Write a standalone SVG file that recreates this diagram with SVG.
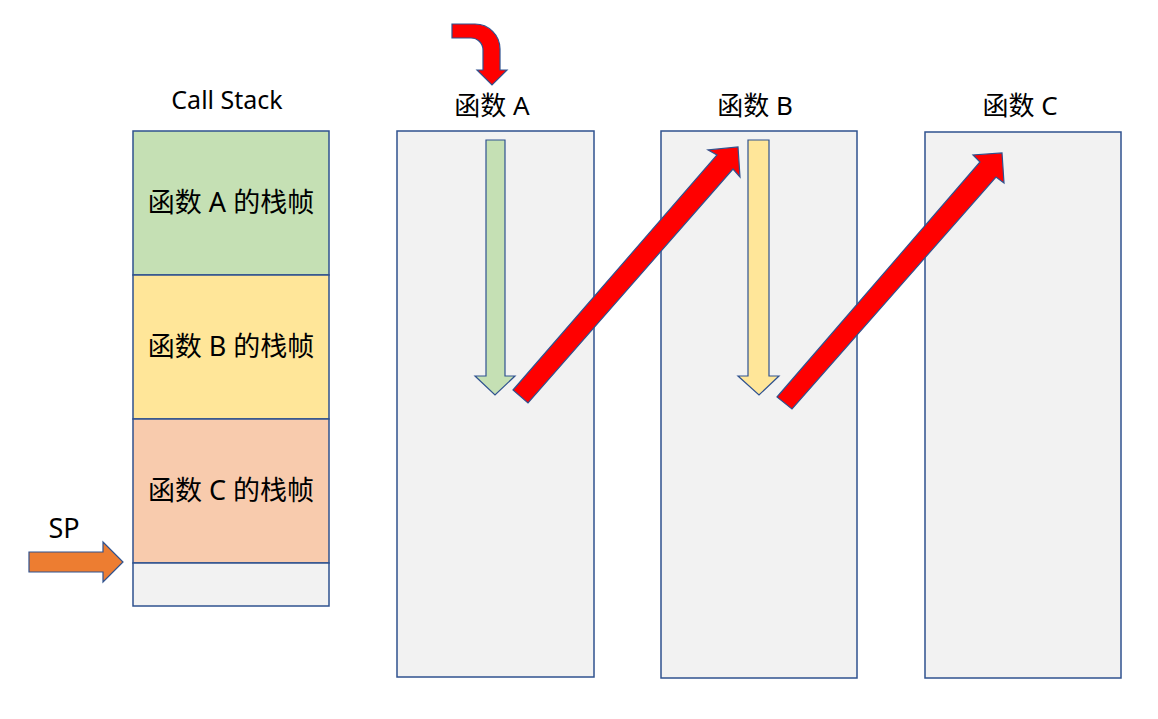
<svg xmlns="http://www.w3.org/2000/svg" width="1158" height="719" viewBox="0 0 1158 719">
<style>
.t{font-family:"Noto Sans","Noto Sans CJK SC",sans-serif;fill:#000;text-anchor:middle}
.box{stroke:#2F528F;stroke-width:1.5}
.arr{stroke:#2F528F;stroke-width:1.2;stroke-linejoin:miter}
</style>
<rect width="1158" height="719" fill="#fff"/>
<g id="callstack">
<text class="t" x="227" y="109" font-size="25">Call Stack</text>
<rect class="box" x="133" y="131" width="196" height="144" fill="#C5E0B4"/>
<rect class="box" x="133" y="275" width="196" height="144" fill="#FFE699"/>
<rect class="box" x="133" y="419" width="196" height="144" fill="#F8CBAD"/>
<rect class="box" x="133" y="563" width="196" height="43" fill="#F2F2F2"/>
<text class="t" x="231" y="212" font-size="27">函数 A 的栈帧</text>
<text class="t" x="231" y="356" font-size="27">函数 B 的栈帧</text>
<text class="t" x="231" y="500" font-size="27">函数 C 的栈帧</text>
</g>
<g id="sp">
<text class="t" x="64" y="538" font-size="27">SP</text>
<path class="arr" d="M29,552 H103 V542 L123,562 L103,582 V572 H29 Z" fill="#ED7D31"/>
</g>
<g id="funcA">
<text class="t" x="492" y="115" font-size="26">函数 A</text>
<rect class="box" x="397" y="131" width="197" height="546" fill="#F2F2F2"/>
</g>
<g id="funcB">
<text class="t" x="755" y="115" font-size="26">函数 B</text>
<rect class="box" x="661" y="131" width="196" height="547" fill="#F2F2F2"/>
</g>
<g id="funcC">
<text class="t" x="1020" y="115" font-size="26">函数 C</text>
<rect class="box" x="925" y="132" width="196" height="546" fill="#F2F2F2"/>
</g>
<g id="connectors">
<path class="arr" d="M452,24 H475 A25,25 0 0 1 500,49 V70 H507 L492,85 L477,70 H483 V50 A12,12 0 0 0 471,38 H452 Z" fill="#FF0000"/>
<path class="arr" d="M486,140 H505 V376 H515 L495,395 L475,376 H486 Z" fill="#C5E0B4"/>
<path class="arr" d="M748,140 H769 V376 H779 L759,395 L738,376 H748 Z" fill="#FFE699"/>
<path class="arr" d="M513,390 L717,155 L708,150 L738,147 L740,177 L733,169 L528,403 Z" fill="#FF0000"/>
<path class="arr" d="M777,397 L980,162 L973,155 L1002,153 L1004,183 L996,177 L792,409 Z" fill="#FF0000"/>
</g>
</svg>
